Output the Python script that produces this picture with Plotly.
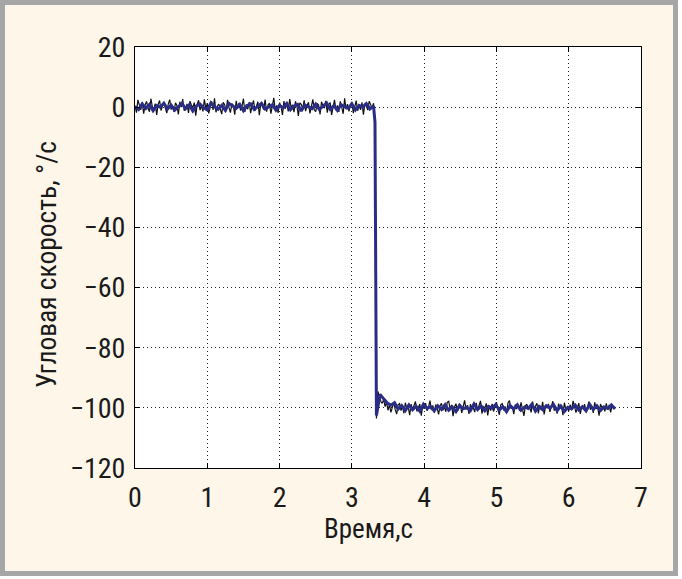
import numpy as np
import plotly.graph_objects as go

# ---- data ----
# raw signal, sampled every 0.02 s
raw_before = [
    0.5, -1.8, 2.4, 0.2, -0.9, 1.6, -2.2, 0.8, 1.9, -0.4,
    -1.5, 2.8, 0.1, -0.7, 1.2, -2.6, 0.9, 2.2, -1.1, 0.4,
    1.7, -0.3, -2.0, 1.0, 2.5, -0.8, 0.3, -1.6, 1.4, 0.6,
    -2.4, 1.8, 0.0, 2.7, -1.2, -0.5, 1.1, -1.9, 2.0, 0.7,
    -0.2, 1.5, -2.8, 0.9, 2.3, -1.0, 0.5, -1.4, 2.6, -0.6,
    1.3, -2.1, 0.2, 1.9, -0.9, 2.9, -1.7, 0.4, 1.0, -0.3,
    -2.3, 1.6, 0.8, -1.3, 2.4, -0.1, -1.8, 1.2, 0.6, -2.5,
    2.1, -0.4, 1.4, -1.1, 0.3, 2.8, -1.6, 0.9, -0.7, 1.7,
    -2.0, 0.5, 2.2, -1.2, 0.1, 1.8, -2.7, 1.1, 0.4, -0.8,
    2.5, -1.5, 0.7, 1.3, -2.2, 0.0, 3.1, -1.0, 0.6, -1.9,
    1.5, 0.2, -2.6, 2.0, -0.5, 1.1, -1.4, 2.7, -0.2, 0.8,
    -1.7, 1.9, 0.3, -2.9, 1.4, 0.9, -0.6, 2.3, -1.3, 0.5,
    1.6, -2.1, 0.1, 2.6, -0.9, -1.5, 1.2, 0.7, -2.4, 1.8,
    0.4, -0.3, 2.1, -1.8, 0.9, 1.5, -2.6, 0.2, 2.4, -1.1,
    0.6, -1.6, 1.9, 0.0, -2.2, 2.9, -0.7, 1.0, -1.4, 0.8,
    1.7, -2.0, 0.3, 2.2, -1.2, 0.5, -0.9, 1.6, -2.5, 1.1,
    0.4, -1.0, 2.0, 0.6, -0.4, 1.3,
]
raw_transition = [-6.0]
raw_after = [
    -103.5, -94.5, -96.2, -97.8, -98.5, -97.2, -99.6, -98.1, -100.8, -98.9,
    -101.5, -99.3, -98.2, -100.6, -102.1, -99.0, -98.6, -100.9, -99.4, -101.8,
    -98.3, -100.2, -99.7, -102.4, -98.8, -100.5, -99.1, -97.9, -101.2, -100.0,
    -98.7, -102.6, -99.5, -100.3, -98.4, -101.0, -99.8, -97.6, -100.7, -99.2,
    -101.6, -98.9, -100.1, -102.2, -99.3, -98.5, -100.8, -99.6, -101.3, -98.2,
    -97.8, -100.4, -99.0, -102.8, -99.7, -98.6, -101.1, -100.2, -98.9, -101.7,
    -99.4, -97.5, -100.6, -99.1, -102.0, -98.8, -100.3, -99.9, -101.4, -98.3,
    -100.7, -99.2, -97.7, -101.9, -99.6, -100.0, -98.5, -102.5, -99.3, -100.9,
    -98.7, -101.2, -99.8, -98.1, -100.5, -102.3, -99.0, -98.6, -100.8, -99.5,
    -101.6, -98.4, -97.6, -100.2, -99.7, -102.1, -98.9, -100.4, -99.1, -101.0,
    -98.2, -100.6, -102.7, -99.4, -98.8, -100.1, -99.9, -101.5, -97.9, -100.3,
    -99.6, -98.5, -101.8, -99.2, -100.7, -98.0, -102.2, -99.5, -100.0, -98.7,
    -101.3, -99.3, -97.8, -100.9, -99.8, -101.9, -98.6, -100.2, -99.0, -102.4,
    -98.3, -100.5, -99.7, -101.1, -98.9, -100.8, -97.7, -99.4, -101.6, -100.1,
    -98.4, -102.0, -99.6, -100.4, -98.8, -101.4, -99.1, -97.9, -100.6, -99.5,
    -101.7, -98.2, -100.3, -99.8, -102.6, -98.7, -100.0, -99.3, -101.2, -98.5,
    -100.7, -99.0, -101.5, -98.9, -100.2, -99.6,
]
raw_dt = 0.02

# filtered signal, sampled every 0.05 s
filt_before = [
    0.3, -0.8, 1.1, -0.4, 0.9, -1.2, 0.5, 0.0, 1.3, -0.6,
    0.7, -1.0, 0.2, 1.2, -0.5, 0.8, -1.3, 0.4, 1.0, -0.2,
    -0.9, 1.4, 0.1, -0.7, 0.6, -1.1, 1.2, 0.3, -0.4, 0.9,
    -1.2, 0.5, 1.1, -0.8, 0.2, 1.3, -0.6, 0.0, 0.8, -1.0,
    0.6, -0.3, 1.2, -0.9, 0.4, 0.9, -1.3, 0.7, 0.1, -0.5,
    1.0, -0.8, 0.3, 1.4, -0.7, 0.5, -1.1, 0.8, 0.2, -0.4,
    1.1, -0.9, 0.6, 0.0, 1.2, -0.6, 0.4,
]
filt_transition = [-5.0]
filt_after = [
    -102.5, -95.5, -97.0, -98.4, -99.1, -98.3, -100.4, -99.2, -100.9, -99.0,
    -100.6, -99.5, -101.1, -98.8, -100.2, -99.6, -101.0, -99.3, -100.5, -98.9,
    -100.8, -99.7, -101.2, -99.1, -100.3, -99.8, -100.9, -98.7, -100.6, -99.4,
    -101.0, -99.5, -100.1, -98.9, -100.7, -99.6, -101.3, -99.2, -100.4, -99.0,
    -100.8, -99.7, -100.2, -98.8, -101.1, -99.5, -100.6, -99.3, -100.0, -98.9,
    -100.9, -99.4, -101.2, -99.8, -100.3, -99.1, -100.7, -99.6, -101.0, -98.8,
    -100.5, -99.3, -100.9, -99.7, -100.2, -99.0, -100.4,
]
filt_dt = 0.05

step_time = 3.32
x_ticks = [0, 1, 2, 3, 4, 5, 6, 7]
y_ticks = [-120, -100, -80, -60, -40, -20, 0, 20]
x_title = "Время,с"
y_title = "Угловая скорость, °/с"

# ---- time bases ----
t_raw = np.concatenate([
    np.arange(len(raw_before)) * raw_dt,
    [step_time],
    step_time + raw_dt + np.arange(len(raw_after)) * raw_dt,
])
y_raw = raw_before + raw_transition + raw_after

t_filt = np.concatenate([
    np.arange(len(filt_before)) * filt_dt,
    [step_time],
    step_time + raw_dt + np.arange(len(filt_after)) * filt_dt,
])
y_filt = filt_before + filt_transition + filt_after

FONT = "Liberation Sans Narrow, Arial Narrow, Roboto Condensed, Liberation Sans, sans-serif"
TXT = "#1a1a1a"

fig = go.Figure()
fig.add_trace(go.Scatter(x=t_raw, y=y_raw, mode="lines",
                         line=dict(color="#111111", width=1.2), showlegend=False))
fig.add_trace(go.Scatter(x=t_filt, y=y_filt, mode="lines",
                         line=dict(color="#2a2d88", width=3), showlegend=False))

L, R, T, B = 135, 41, 47, 111
W, H = 682, 579
pw, ph = W - L - R, H - T - B

def px_x(p):
    return (p - L) / pw

def px_y(p):
    return (H - B - p) / ph

fig.add_shape(type="rect", xref="paper", yref="paper",
              x0=px_x(2.5), x1=px_x(675.5), y0=px_y(573.5), y1=px_y(2.5),
              fillcolor="#fdf6e9", line=dict(color="#a6a6a6", width=5), layer="below")
fig.add_shape(type="rect", xref="paper", yref="paper",
              x0=0, x1=1, y0=0, y1=1,
              fillcolor="white", line=dict(width=0), layer="below")

axis_common = dict(
    showline=True, linecolor="black", linewidth=1, mirror="ticks",
    ticks="inside", ticklen=5, tickcolor="black",
    showgrid=True, gridcolor="#222222", gridwidth=1, griddash="1px,3px",
    zeroline=False,
    tickfont=dict(family=FONT, size=28, color=TXT),
)

fig.update_xaxes(range=[0, 7], tickvals=x_ticks, ticklabelstandoff=4, **axis_common)
fig.update_yaxes(range=[-120, 20], tickvals=y_ticks, ticklabelstandoff=3, **axis_common)

fig.add_annotation(text=x_title, xref="paper", yref="paper",
                   x=px_x(368), y=px_y(529), xanchor="center", yanchor="middle",
                   showarrow=False, font=dict(family=FONT, size=27, color=TXT))
fig.add_annotation(text=y_title, xref="paper", yref="paper",
                   x=px_x(46), y=px_y(265), xanchor="center", yanchor="middle",
                   textangle=-90, showarrow=False,
                   font=dict(family=FONT, size=27.5, color=TXT))

fig.update_layout(
    width=W, height=H,
    margin=dict(l=L, r=R, t=T, b=B),
    paper_bgcolor="white", plot_bgcolor="white",
    showlegend=False,
)

fig.write_html("out.html", config={"displayModeBar": False},
               post_script="document.body.style.margin='0';")
